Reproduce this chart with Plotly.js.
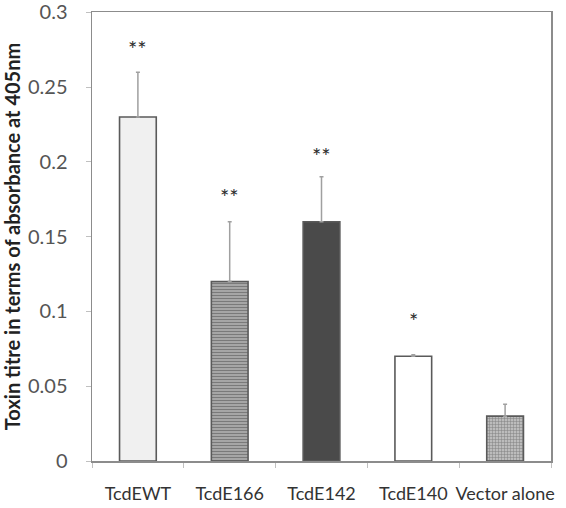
<!DOCTYPE html>
<html>
<head>
<meta charset="utf-8">
<script src="https://cdn.plot.ly/plotly-3.0.1.min.js"></script>
<style>html,body{margin:0;padding:0;background:#fff;}#chart{width:566px;height:508px;}</style>
</head>
<body>
<div id="chart"></div>
<script>
const categories = ["TcdEWT", "TcdE166", "TcdE142", "TcdE140", "Vector alone"];
const values = [0.23, 0.12, 0.16, 0.07, 0.03];
const errorsUp = [0.03, 0.04, 0.03, 0.001, 0.008];
const significance = ["**", "**", "**", "*", ""];
const significanceY = [0.276, 0.177, 0.204, 0.094, null];
const yTickVals = [0, 0.05, 0.1, 0.15, 0.2, 0.25, 0.3];
const yTickText = ["0", "0.05", "0.1", "0.15", "0.2", "0.25", "0.3"];

const barColors = ["#f0f0f0", "#a6a6a6", "#4a4a4a", "#ffffff", "#bcbcbc"];
const patternShapes = ["", "-", "", "", "+"];
const patternFg = ["#f0f0f0", "#959595", "#4a4a4a", "#ffffff", "#aaaaaa"];

const trace = {
  type: "bar",
  x: categories,
  y: values,
  width: 0.4,
  marker: {
    color: barColors,
    line: {color: "#5a5a5a", width: 1.6},
    pattern: {fillmode: "overlay", shape: patternShapes, fgcolor: patternFg, size: 3, solidity: 0.3}
  },
  error_y: {
    type: "data",
    symmetric: false,
    array: errorsUp,
    arrayminus: values.map(() => 0),
    color: "#a0a0a0",
    thickness: 1.5,
    width: 2
  },
  hoverinfo: "none"
};

const annotations = categories.map((c, i) => ({
  x: c, y: significanceY[i], xref: "x", yref: "y",
  text: significance[i], showarrow: false,
  font: {family: "Lato, sans-serif", size: 22, color: "#2b2b2b"}
})).filter(a => a.text !== "");

const layout = {
  width: 566, height: 508,
  margin: {l: 92, r: 15, t: 12, b: 47},
  paper_bgcolor: "#ffffff",
  plot_bgcolor: "#ffffff",
  showlegend: false,
  font: {family: "Lato, sans-serif", color: "#404040"},
  xaxis: {
    type: "category",
    range: [-0.5, 4.5],
    showline: true, mirror: true, linecolor: "#8c8c8c", linewidth: 1.5,
    ticks: "outside", tickson: "boundaries", ticklen: 5, tickcolor: "#c0c0c0",
    tickangle: 0, ticklabelstandoff: 16,
    tickfont: {family: "Lato, sans-serif", size: 18, color: "#333333"},
    showgrid: false, zeroline: false,
    fixedrange: true
  },
  yaxis: {
    range: [0, 0.3002],
    tickvals: yTickVals, ticktext: yTickText,
    showline: true, mirror: true, linecolor: "#8c8c8c", linewidth: 1.5,
    ticks: "outside", ticklen: 5, tickcolor: "#c0c0c0",
    ticklabelstandoff: 14, ticklabeloverflow: "allow",
    tickfont: {family: "Lato, sans-serif", size: 20, color: "#555555"},
    showgrid: false, zeroline: false,
    title: {text: "Toxin titre in terms of absorbance at 405nm", standoff: 6,
            font: {family: "Lato, sans-serif", size: 20, color: "#222222", weight: "bold"}},
    fixedrange: true
  },
  annotations: annotations
};

Plotly.newPlot("chart", [trace], layout, {displayModeBar: false, staticPlot: true});
</script>
</body>
</html>
